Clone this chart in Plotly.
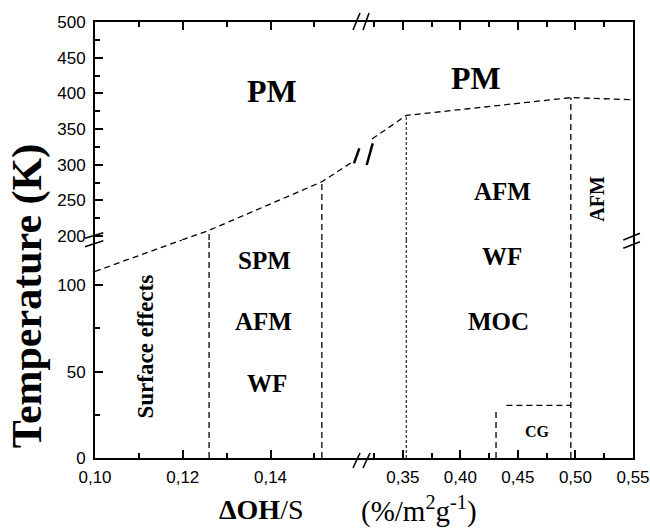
import plotly.graph_objects as go
from plotly.subplots import make_subplots

# ---------------- data ----------------
# axis ranges (broken axes)
x_left_range = [0.10, 0.1613]
x_right_range = [0.3163, 0.55]
y_low_range = [0, 126.2]
y_high_range = [194.4, 500]

x_left_major = [0.10, 0.12, 0.14]
x_left_labels = ["0,10", "0,12", "0,14"]
x_left_minor = [0.11, 0.13, 0.15]
x_right_major = [0.35, 0.40, 0.45, 0.50, 0.55]
x_right_labels = ["0,35", "0,40", "0,45", "0,50", "0,55"]
x_right_minor = [0.325, 0.375, 0.425, 0.475, 0.525]
y_high_major = [200, 250, 300, 350, 400, 450, 500]
y_high_minor = [225, 275, 325, 375, 425, 475]
y_low_major = [0, 50, 100]
y_low_minor = [25, 75]

# phase boundary T(x) (dashed), split by panel
bnd_low_left_x = [0.100, 0.1198]
bnd_low_left_T = [108, 126.2]
bnd_high_left_x = [0.1198, 0.126, 0.1517, 0.1592]
bnd_high_left_T = [194.4, 208, 276, 306]
bnd_high_right_x = [0.3233, 0.353, 0.496, 0.55]
bnd_high_right_T = [336, 369, 394, 391]

# vertical phase separators: x position and top temperature
vert_left_x = [0.126, 0.1517]
vert_left_top = [208, 276]
vert_right_dotted_x = 0.353
vert_right_dotted_top = 369
vert_right_x = 0.496
vert_right_top = 394

# CG region
cg_vert_x = [0.431, 0.431]
cg_vert_T = [0, 28.5]
cg_horiz_x = [0.44, 0.496]
cg_horiz_T = [30.5, 30.5]

# labels: (text, x, T, panel, size, angle)
labels = [
    ("PM", 0.1403, 403, "tl", 32, 0),
    ("PM", 0.4137, 421, "tr", 32, 0),
    ("AFM", 0.4364, 263, "tr", 25, 0),
    ("AFM", 0.5185, 252, "tr", 20, -90),
    ("WF", 0.4364, 116.6, "br", 25, 0),
    ("MOC", 0.433, 79, "br", 25, 0),
    ("CG", 0.4668, 15.4, "br", 16, 0),
    ("SPM", 0.1387, 114.3, "bl", 25, 0),
    ("AFM", 0.1383, 79, "bl", 25, 0),
    ("WF", 0.1392, 43, "bl", 25, 0),
    ("Surface effects", 0.1116, 64.5, "bl", 23, -90),
]

# ---------------- figure ----------------
fig = make_subplots(rows=2, cols=2, horizontal_spacing=0, vertical_spacing=0,
                    column_widths=[0.5, 0.5], row_heights=[0.5, 0.5])

SERIF = "Liberation Serif"
dash_main = "6px,4px"
dash_dot = "3px,2px"
lw = 1.3

def add_line(x, y, row, col, dash=dash_main, width=lw):
    fig.add_trace(go.Scatter(x=x, y=y, mode="lines",
                             line=dict(color="black", width=width, dash=dash),
                             showlegend=False, hoverinfo="skip"), row=row, col=col)

# boundary
add_line(bnd_low_left_x, bnd_low_left_T, 2, 1)
add_line(bnd_high_left_x, bnd_high_left_T, 1, 1)
add_line(bnd_high_right_x, bnd_high_right_T, 1, 2)

# verticals left
for vx, vt in zip(vert_left_x, vert_left_top):
    add_line([vx, vx], [y_high_range[0], vt], 1, 1)
    add_line([vx, vx], [0, y_low_range[1]], 2, 1)
# right verticals
add_line([vert_right_dotted_x] * 2, [y_high_range[0], vert_right_dotted_top], 1, 2, dash=dash_dot, width=1.0)
add_line([vert_right_dotted_x] * 2, [0, y_low_range[1]], 2, 2, dash=dash_dot, width=1.0)
add_line([vert_right_x] * 2, [y_high_range[0], vert_right_top], 1, 2)
add_line([vert_right_x] * 2, [0, y_low_range[1]], 2, 2)
# CG
add_line(cg_vert_x, cg_vert_T, 2, 2)
add_line(cg_horiz_x, cg_horiz_T, 2, 2)

panel_ref = {"tl": ("x", "y"), "tr": ("x2", "y2"), "bl": ("x3", "y3"), "br": ("x4", "y4")}
for text, x, T, panel, size, ang in labels:
    xr, yr = panel_ref[panel]
    fig.add_annotation(x=x, y=T, xref=xr, yref=yr, text="<b>%s</b>" % text,
                       showarrow=False, textangle=ang,
                       font=dict(family=SERIF, size=size, color="black"),
                       xanchor="center", yanchor="middle")

tickfont = dict(family="Liberation Sans", size=17, color="black")
ax_common = dict(showgrid=False, zeroline=False, showline=True, linecolor="black",
                 linewidth=1.8, tickcolor="black", tickwidth=1.5, ticklen=8,
                 ticks="inside", tickfont=tickfont, automargin=False)
minor_common = dict(ticks="inside", ticklen=5, tickwidth=1.5, tickcolor="black")

# bottom x axes
fig.update_xaxes(row=2, col=1, range=x_left_range, tickvals=x_left_major, ticktext=x_left_labels,
                 minor=dict(tickvals=x_left_minor, **minor_common), ticklabelstandoff=3, **ax_common)
fig.update_xaxes(row=2, col=2, range=x_right_range, tickvals=x_right_major, ticktext=x_right_labels,
                 minor=dict(tickvals=x_right_minor, **minor_common), ticklabelstandoff=3, **ax_common)
# top x axes
fig.update_xaxes(row=1, col=1, range=x_left_range, tickvals=x_left_major, side="top", showticklabels=False,
                 minor=dict(tickvals=x_left_minor, **minor_common), **ax_common)
fig.update_xaxes(row=1, col=2, range=x_right_range, tickvals=x_right_major, side="top", showticklabels=False,
                 minor=dict(tickvals=x_right_minor, **minor_common), **ax_common)
# left y axes
fig.update_yaxes(row=1, col=1, range=y_high_range, tickvals=y_high_major,
                 minor=dict(tickvals=y_high_minor, **minor_common), ticklabelstandoff=4, **ax_common)
fig.update_yaxes(row=2, col=1, range=y_low_range, tickvals=y_low_major,
                 minor=dict(tickvals=y_low_minor, **minor_common), ticklabelstandoff=4, **ax_common)
# right y axes
right_common = dict(ax_common)
right_common.update(ticks="")
fig.update_yaxes(row=1, col=2, range=y_high_range, side="right", showticklabels=False, **right_common)
fig.update_yaxes(row=2, col=2, range=y_low_range, side="right", showticklabels=False, **right_common)

# axis titles
fig.add_annotation(x=-0.124, y=0.3716, xref="paper", yref="paper", text="<b>Temperature (K)</b>",
                   textangle=-90, showarrow=False, font=dict(family=SERIF, size=42, color="black"),
                   xanchor="center", yanchor="middle")
fig.add_annotation(x=0.308, y=-0.117, xref="paper", yref="paper", text="<b>ΔOH</b>/S",
                   showarrow=False, font=dict(family=SERIF, size=28, color="black"),
                   xanchor="center", yanchor="middle")
fig.add_annotation(x=0.603, y=-0.117, xref="paper", yref="paper", text="(%/m<sup>2</sup>g<sup>-1</sup>)",
                   showarrow=False, font=dict(family=SERIF, size=29, color="black"),
                   xanchor="center", yanchor="middle")

# break marks (pixel offsets relative to anchor; screen y downward)
def break_marks(ax, ay, strokes, width=1.6):
    for dx0, dy0, dx1, dy1 in strokes:
        fig.add_shape(type="line", xref="paper", yref="paper",
                      xsizemode="pixel", ysizemode="pixel", xanchor=ax, yanchor=ay,
                      x0=dx0, x1=dx1, y0=-dy0, y1=-dy1,
                      line=dict(color="black", width=width))

break_marks(0.5, 1.0, [(-11, 8, -4, -9), (-1, 8, 5, -9)])
break_marks(0.5, 0.0, [(-11, 10, -4, -5), (-1, 10, 6, -5)])
break_marks(0.0, 0.5, [(-10, -1.7, 8.3, -7.3), (-10, 6.7, 8.3, 0.7)])
break_marks(1.0, 0.5, [(-9.7, 0, 7, -6.7), (-9.7, 8.3, 7, 1.7)])
break_marks(0.5, 0.7018, [(-10, 11.3, -4.7, -3.7), (2.7, 13, 8.7, -8.7)], width=2.5)

fig.update_layout(width=650, height=529, margin=dict(l=95, r=17, t=22, b=71, autoexpand=False),
                  plot_bgcolor="white", paper_bgcolor="white", showlegend=False)

# remove the default page margin so the figure sits at the window's top-left corner
fig.write_html("out.html", config={"responsive": False, "displayModeBar": False},
               post_script="document.body.style.margin='0';document.body.style.overflow='hidden';")
